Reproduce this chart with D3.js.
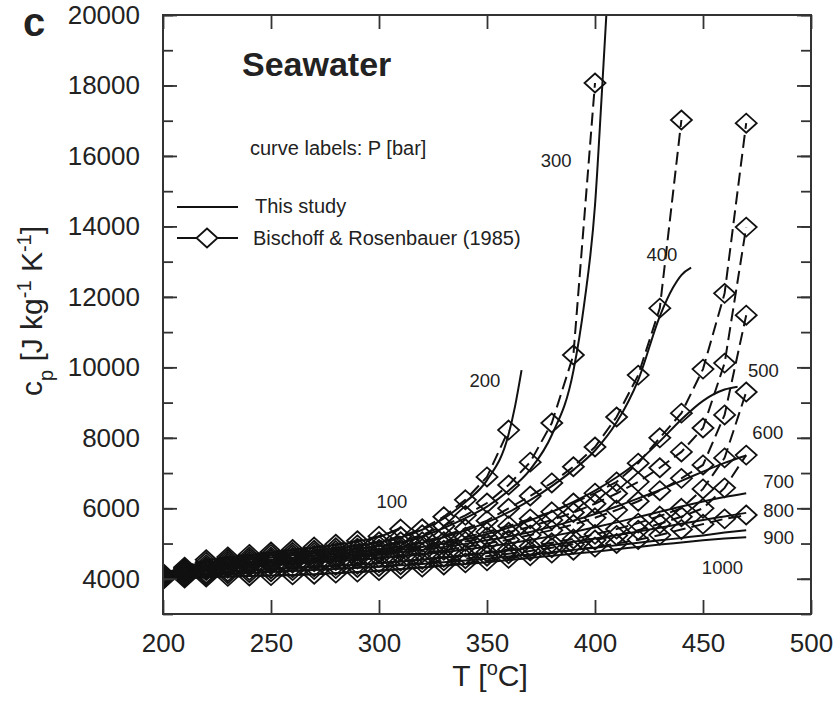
<!DOCTYPE html>
<html>
<head>
<meta charset="utf-8">
<script src="https://cdn.jsdelivr.net/npm/d3@7"></script>
<style>
  body { margin: 0; background: #fff; }
  svg text { font-family: "Liberation Sans", Arial, sans-serif; fill: #222; }
</style>
</head>
<body>
<div id="chart"></div>
<script>
// pressures (bar), one solid curve + one B&R series each
const pressures = [100, 200, 300, 400, 500, 600, 700, 800, 900, 1000]

// Bischoff & Rosenbauer (1985): cp at 200, 210, ... degC
const brTemps = [200, 210, 220, 230, 240, 250, 260, 270, 280, 290, 300, 310, 320, 330,
  340, 350, 360, 370, 380, 390, 400, 410, 420, 430, 440, 450, 460, 470]
const br100 = [4150, 4330, 4540, 4620, 4690, 4760, 4830, 4900, 4980, 5080, 5210, 5410]
const br200 = [4120, 4290, 4470, 4560, 4620, 4690, 4750, 4810, 4880, 4960, 5050, 5200, 5420, 5760, 6240, 6890, 8220]
const br300 = [4100, 4250, 4400, 4500, 4560, 4620, 4680, 4740, 4800, 4870, 4940, 5050, 5250, 5500, 5800, 6150, 6660, 7310, 8420, 10350, 18070]
const br400 = [4080, 4220, 4340, 4440, 4500, 4560, 4610, 4670, 4720, 4780, 4840, 4920, 5050, 5220, 5420, 5650, 6000, 6350, 6720, 7180, 7740, 8590, 9780, 11680, 17020]
const br500 = [4060, 4190, 4290, 4380, 4440, 4500, 4550, 4600, 4650, 4700, 4770, 4850, 4940, 5050, 5180, 5330, 5500, 5700, 5900, 6150, 6430, 6750, 7280, 8000, 8700, 9950, 12100, 16930]
const br600 = [4040, 4160, 4260, 4340, 4400, 4450, 4500, 4540, 4590, 4640, 4710, 4780, 4860, 4950, 5060, 5180, 5320, 5480, 5670, 5880, 6130, 6420, 6750, 7150, 7600, 8280, 10120, 13980]
const br700 = [4020, 4130, 4230, 4300, 4350, 4400, 4440, 4480, 4520, 4560, 4600, 4660, 4730, 4810, 4900, 5000, 5110, 5240, 5380, 5540, 5730, 5950, 6200, 6500, 6850, 7230, 8650, 11480]
const br800 = [4000, 4080, 4150, 4200, 4240, 4280, 4310, 4340, 4380, 4410, 4450, 4500, 4550, 4610, 4680, 4750, 4830, 4920, 5020, 5130, 5260, 5410, 5580, 5780, 6000, 6550, 7430, 9300]
const br900 = [3990, 4050, 4100, 4140, 4170, 4200, 4230, 4260, 4290, 4320, 4350, 4400, 4450, 4510, 4570, 4640, 4710, 4790, 4880, 4980, 5100, 5230, 5380, 5560, 5760, 6000, 6580, 7510]
const br1000 = [3980, 4020, 4050, 4070, 4080, 4090, 4110, 4130, 4160, 4190, 4230, 4280, 4330, 4390, 4450, 4510, 4580, 4650, 4730, 4810, 4900, 5000, 5110, 5240, 5400, 5550, 5700, 5810]

// This study: [T, cp]
const study100 = [[200, 4140], [210, 4310], [220, 4510], [230, 4600], [240, 4670], [250, 4740], [260, 4810], [270, 4880], [280, 4960], [290, 5060], [300, 5190], [310, 5440]]
const study200 = [[200, 4110], [210, 4270], [220, 4450], [230, 4540], [240, 4600], [250, 4670], [260, 4730], [270, 4790], [280, 4860], [290, 4940], [300, 5030], [310, 5170], [320, 5390], [330, 5710], [340, 6180], [350, 6800], [360, 8100], [363, 8900], [366, 9920]]
const study300 = [[200, 4090], [210, 4230], [220, 4380], [230, 4480], [240, 4540], [250, 4600], [260, 4660], [270, 4720], [280, 4780], [290, 4850], [300, 4920], [310, 5020], [320, 5200], [330, 5440], [340, 5720], [350, 6050], [360, 6500], [370, 7100], [380, 8080], [390, 9900], [395, 11800], [400, 14600], [403, 17600], [406, 20800]]
const study400 = [[200, 4070], [210, 4200], [220, 4320], [230, 4420], [240, 4480], [250, 4540], [260, 4590], [270, 4650], [280, 4700], [290, 4760], [300, 4820], [310, 4900], [320, 5020], [330, 5180], [340, 5370], [350, 5600], [360, 5890], [370, 6230], [380, 6630], [390, 7090], [400, 7640], [410, 8440], [420, 9640], [430, 11450], [436, 12250], [440, 12620], [444.5, 12830]]
const study500 = [[200, 4050], [210, 4170], [220, 4270], [230, 4360], [240, 4420], [250, 4480], [260, 4530], [270, 4580], [280, 4630], [290, 4680], [300, 4750], [310, 4820], [320, 4900], [330, 5000], [340, 5120], [350, 5270], [360, 5450], [370, 5660], [380, 5900], [390, 6180], [400, 6500], [410, 6880], [420, 7330], [430, 7900], [440, 8520], [450, 9050], [460, 9370], [466, 9450]]
const study600 = [[200, 4030], [210, 4140], [220, 4240], [230, 4320], [240, 4380], [250, 4430], [260, 4480], [270, 4520], [280, 4570], [290, 4620], [300, 4690], [310, 4750], [320, 4820], [330, 4900], [340, 4990], [350, 5090], [360, 5200], [370, 5330], [380, 5480], [390, 5650], [400, 5840], [410, 6050], [420, 6280], [430, 6520], [440, 6780], [450, 7040], [460, 7290], [470, 7500]]
const study700 = [[200, 4020], [210, 4110], [220, 4210], [230, 4280], [240, 4330], [250, 4380], [260, 4420], [270, 4460], [280, 4500], [290, 4540], [300, 4580], [310, 4630], [320, 4690], [330, 4760], [340, 4830], [350, 4910], [360, 5000], [370, 5100], [380, 5210], [390, 5330], [400, 5460], [410, 5600], [420, 5750], [430, 5900], [440, 6050], [450, 6190], [460, 6320], [470, 6430]]
const study800 = [[200, 4000], [210, 4080], [220, 4140], [230, 4190], [240, 4230], [250, 4270], [260, 4300], [270, 4330], [280, 4370], [290, 4400], [300, 4440], [310, 4490], [320, 4540], [330, 4600], [340, 4660], [350, 4730], [360, 4800], [370, 4880], [380, 4960], [390, 5050], [400, 5140], [410, 5240], [420, 5340], [430, 5450], [440, 5560], [450, 5670], [460, 5770], [470, 5870]]
const study900 = [[200, 3990], [210, 4040], [220, 4090], [230, 4130], [240, 4160], [250, 4190], [260, 4220], [270, 4250], [280, 4280], [290, 4310], [300, 4340], [310, 4380], [320, 4420], [330, 4470], [340, 4520], [350, 4570], [360, 4630], [370, 4690], [380, 4750], [390, 4820], [400, 4880], [410, 4950], [420, 5020], [430, 5090], [440, 5160], [450, 5230], [460, 5310], [470, 5380]]
const study1000 = [[200, 3980], [210, 4010], [220, 4040], [230, 4060], [240, 4080], [250, 4090], [260, 4110], [270, 4130], [280, 4160], [290, 4190], [300, 4230], [310, 4270], [320, 4320], [330, 4370], [340, 4420], [350, 4470], [360, 4530], [370, 4590], [380, 4650], [390, 4710], [400, 4770], [410, 4840], [420, 4900], [430, 4970], [440, 5030], [450, 5090], [460, 5140], [470, 5180]]

// curve label anchors (T, cp)
const labelT = [306, 349, 382, 431, 478, 480, 485, 485, 485, 459]
const labelCp = [6180, 9640, 15880, 13215, 9920, 8140, 6750, 5950, 5160, 4330]

const xTicks = [200, 250, 300, 350, 400, 450, 500]
const yTicks = [4000, 6000, 8000, 10000, 12000, 14000, 16000, 18000, 20000]
const yMinor = d3.range(3000, 20001, 1000)

const brSeries = [br100, br200, br300, br400, br500, br600, br700, br800, br900, br1000]
const studySeries = [study100, study200, study300, study400, study500, study600, study700, study800, study900, study1000]

function draw() {
  const width = 836
  const height = 702
  const margin = { top: 15, right: 25, bottom: 88, left: 163 }
  const w = width - margin.left - margin.right
  const h = height - margin.top - margin.bottom

  const svg = d3.select('#chart').append('svg')
    .attr('width', width)
    .attr('height', height)

  const x = d3.scaleLinear().domain([200, 500]).range([0, w])
  const y = d3.scaleLinear().domain([3000, 20000]).range([h, 0])

  const g = svg.append('g').attr('transform', `translate(${margin.left},${margin.top})`)

  g.append('clipPath').attr('id', 'plot-clip')
    .append('rect').attr('width', w).attr('height', h)

  const plot = g.append('g').attr('clip-path', 'url(#plot-clip)')

  // this study, solid
  const solid = d3.line().x(d => x(d[0])).y(d => y(d[1])).curve(d3.curveMonotoneX)
  plot.selectAll('.study')
    .data(studySeries)
    .join('path')
    .attr('class', 'study')
    .attr('d', solid)
    .attr('fill', 'none')
    .attr('stroke', '#111')
    .attr('stroke-width', 2)

  // B&R, dashed with diamonds
  const brPoints = brSeries.map(s => s.map((v, i) => [brTemps[i], v]))
  const dashed = d3.line().x(d => x(d[0])).y(d => y(d[1]))
  plot.selectAll('.br')
    .data(brPoints)
    .join('path')
    .attr('class', 'br')
    .attr('d', dashed)
    .attr('fill', 'none')
    .attr('stroke', '#111')
    .attr('stroke-width', 2)
    .attr('stroke-dasharray', '13,6')

  const diamond = 'M0,-9.5L10.5,0L0,9.5L-10.5,0Z'
  plot.selectAll('.mk')
    .data(brPoints.flat())
    .join('path')
    .attr('class', 'mk')
    .attr('d', diamond)
    .attr('transform', d => `translate(${x(d[0])},${y(d[1])})`)
    .attr('fill', 'none')
    .attr('stroke', '#111')
    .attr('stroke-width', 1.8)

  // curve labels
  g.selectAll('.clab')
    .data(pressures)
    .join('text')
    .attr('class', 'clab')
    .attr('x', (d, i) => x(labelT[i]))
    .attr('y', (d, i) => y(labelCp[i]))
    .attr('text-anchor', 'middle')
    .attr('dominant-baseline', 'central')
    .style('font-size', '18.5px')
    .text(d => d)

  // axes, ticks inward on all four sides
  const axisStyle = sel => {
    sel.select('.domain').remove()
    sel.selectAll('line').attr('stroke', '#333').attr('stroke-width', 1.8)
    sel.selectAll('text').style('font-size', '26px').attr('fill', '#222')
  }
  g.append('g').attr('transform', `translate(0,${h})`)
    .call(d3.axisBottom(x).tickValues(xTicks).tickSize(-14).tickPadding(20).tickFormat(d3.format('d')))
    .call(axisStyle)
  g.append('g')
    .call(d3.axisTop(x).tickValues(xTicks).tickSize(-14).tickFormat(''))
    .call(axisStyle)
  g.append('g')
    .call(d3.axisLeft(y).tickValues(yTicks).tickSize(-14).tickPadding(23).tickFormat(d3.format('d')))
    .call(axisStyle)
  g.append('g')
    .call(d3.axisLeft(y).tickValues(yMinor).tickSize(-10).tickFormat(''))
    .call(axisStyle)
  g.append('g').attr('transform', `translate(${w},0)`)
    .call(d3.axisRight(y).tickValues(yTicks).tickSize(-14).tickFormat(''))
    .call(axisStyle)
  g.append('g').attr('transform', `translate(${w},0)`)
    .call(d3.axisRight(y).tickValues(yMinor).tickSize(-10).tickFormat(''))
    .call(axisStyle)

  g.append('rect')
    .attr('width', w).attr('height', h)
    .attr('fill', 'none')
    .attr('stroke', '#333')
    .attr('stroke-width', 2)

  // axis titles
  const xt = svg.append('text')
    .attr('x', 490).attr('y', 686)
    .attr('text-anchor', 'middle')
    .style('font-size', '30px')
  xt.append('tspan').text('T [')
  xt.append('tspan').attr('baseline-shift', 'super').style('font-size', '20px').text('o')
  xt.append('tspan').text('C]')

  const yt = svg.append('text')
    .attr('transform', 'translate(42,311) rotate(-90)')
    .attr('text-anchor', 'middle')
    .style('font-size', '30px')
  yt.append('tspan').text('c')
  yt.append('tspan').attr('baseline-shift', 'sub').style('font-size', '20px').text('p')
  yt.append('tspan').text(' [J kg')
  yt.append('tspan').attr('baseline-shift', 'super').style('font-size', '20px').text('-1')
  yt.append('tspan').text(' K')
  yt.append('tspan').attr('baseline-shift', 'super').style('font-size', '20px').text('-1')
  yt.append('tspan').text(']')

  // panel letter and annotations
  svg.append('text').attr('x', 23).attr('y', 36)
    .style('font-size', '40px').style('font-weight', 'bold').text('c')
  svg.append('text').attr('x', 242).attr('y', 76)
    .style('font-size', '34px').style('font-weight', 'bold').text('Seawater')
  svg.append('text').attr('x', 250).attr('y', 155)
    .style('font-size', '20px').text('curve labels: P [bar]')

  // legend
  svg.append('line').attr('x1', 177).attr('x2', 238).attr('y1', 207).attr('y2', 207)
    .attr('stroke', '#111').attr('stroke-width', 2)
  svg.append('text').attr('x', 255).attr('y', 213).style('font-size', '20px').text('This study')
  svg.append('line').attr('x1', 177).attr('x2', 238).attr('y1', 238).attr('y2', 238)
    .attr('stroke', '#111').attr('stroke-width', 2)
  svg.append('path').attr('d', diamond).attr('transform', 'translate(207,238)')
    .attr('fill', '#fff').attr('stroke', '#111').attr('stroke-width', 1.8)
  svg.append('text').attr('x', 253).attr('y', 245).style('font-size', '20px').text('Bischoff & Rosenbauer (1985)')
}

draw()
</script>
</body>
</html>
